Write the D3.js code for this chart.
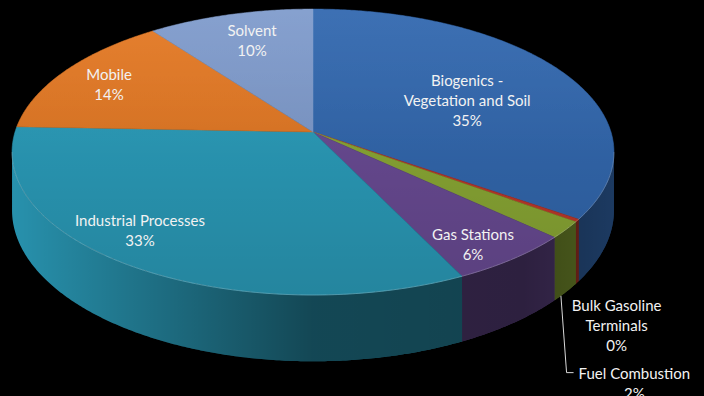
<!DOCTYPE html>
<html><head><meta charset="utf-8">
<script src="https://cdn.jsdelivr.net/npm/d3@7"></script>
<style>html,body{margin:0;padding:0;background:#000;overflow:hidden}svg{display:block}</style>
</head><body>
<script>
// ---- data ----
const categories = ["Biogenics - Vegetation and Soil", "Bulk Gasoline Terminals", "Fuel Combustion", "Gas Stations", "Industrial Processes", "Mobile", "Solvent"];
const values = [34.7, 0.3, 1.9, 5.9, 32.8, 14.2, 10.2];
const labelLines = [["Biogenics -", "Vegetation and Soil"], ["Bulk Gasoline", "Terminals"], ["Fuel Combustion"], ["Gas Stations"], ["Industrial Processes"], ["Mobile"], ["Solvent"]];
const colors = ["#3369B0", "#C0392B", "#8CAA35", "#6B4C96", "#2B9EBC", "#E57A25", "#809CCD"];
// label anchors in the pie plane: [angle deg, radius fraction]
const labelAnchor = [[66.2, 0.584], [143.5, 1.436], [148.9, 1.67], [146.1, 0.866], [219.7, 0.828], [296.6, 0.804], [342.7, 0.757]];

const W = 704, H = 396;
const cx = 313, cy = 132, A = 298, E = -121.7, P = 0.14, T = 57;
const rad = d3.scaleLinear().domain([0, 360]).range([0, 2 * Math.PI]);
function proj(theta, r, z) {
  const u = r * Math.sin(theta), v = r * Math.cos(theta);
  const den = 1 + P * v;
  return [cx + A * u / den, (E * v + cy) / den + z * T / den];
}
function arcPts(a0, a1, r, z) {
  const n = Math.max(2, Math.ceil((a1 - a0) / rad(0.5)));
  return d3.range(n + 1).map(i => proj(a0 + (a1 - a0) * i / n, r, z));
}
const line = d3.line();

const svg = d3.select("body").append("svg").attr("width", W).attr("height", H);
svg.append("rect").attr("width", W).attr("height", H).attr("fill", "#000");
const defs = svg.append("defs");
const wg = defs.append("linearGradient").attr("id", "wallShade").attr("gradientUnits", "userSpaceOnUse")
  .attr("x1", 12).attr("x2", 614).attr("y1", 0).attr("y2", 0);
[[0, 0.08], [0.5, 0.55], [0.85, 0.58], [1, 0.45]].forEach(([o, a]) => wg.append("stop").attr("offset", o).attr("stop-color", "#000").attr("stop-opacity", a));
const tg = defs.append("linearGradient").attr("id", "topShade").attr("gradientUnits", "userSpaceOnUse")
  .attr("x1", 0).attr("x2", 0).attr("y1", 9).attr("y2", 300);
[[0, 0], [1, 0.16]].forEach(([o, a]) => tg.append("stop").attr("offset", o).attr("stop-color", "#000").attr("stop-opacity", a));
const tl = defs.append("linearGradient").attr("id", "topLight").attr("gradientUnits", "userSpaceOnUse")
  .attr("x1", 0).attr("x2", 0).attr("y1", 9).attr("y2", 160);
[[0, 0.05], [1, 0]].forEach(([o, a]) => tl.append("stop").attr("offset", o).attr("stop-color", "#fff").attr("stop-opacity", a));

const pie = d3.pie().sort(null).value(d => d).startAngle(0).endAngle(2 * Math.PI);
const arcs = pie(values);
const total = d3.sum(values);

// walls (visible front part)
const vis0 = rad(98), vis1 = rad(262);
const walls = svg.append("g");
arcs.forEach((a, i) => {
  const s = Math.max(a.startAngle, vis0), e = Math.min(a.endAngle, vis1);
  if (e <= s) return;
  const top = arcPts(s, e, 1, 0), bot = arcPts(s, e, 1, 1).reverse();
  const d = line(top.concat(bot)) + "Z";
  walls.append("path").attr("d", d).attr("fill", colors[i]);
  walls.append("path").attr("d", d).attr("fill", "url(#wallShade)");
});

// tops
const tops = svg.append("g");
arcs.forEach((a, i) => {
  const pts = [proj(0, 0, 0)].concat(arcPts(a.startAngle, a.endAngle, 1, 0));
  tops.append("path").attr("d", line(pts) + "Z").attr("fill", colors[i]).attr("stroke", colors[i]).attr("stroke-width", 0.5);
});
const full = line(arcPts(0, 2 * Math.PI, 1, 0)) + "Z";
tops.append("path").attr("d", full).attr("fill", "url(#topShade)");
tops.append("path").attr("d", full).attr("fill", "url(#topLight)");
// front rim highlight
tops.append("path").attr("d", line(arcPts(vis0, vis1, 1, 0))).attr("fill", "none")
  .attr("stroke", "rgba(255,255,255,0.22)").attr("stroke-width", 1);

// labels
const fmt = d3.format(".0%");
const labels = svg.append("g").attr("font-family", "Lato, 'Open Sans', sans-serif").attr("font-size", 15).attr("fill", "#F2F2F2").attr("text-anchor", "middle");
const lineH = 20;
const boxes = [];
arcs.forEach((a, i) => {
  const lines = labelLines[i].concat([fmt(values[i] / total)]);
  const [x, y] = proj(rad(labelAnchor[i][0]), labelAnchor[i][1], 0);
  const t = labels.append("text").attr("x", x).attr("y", y - (lines.length - 1) * lineH / 2).attr("dominant-baseline", "central");
  lines.forEach((l, k) => t.append("tspan").attr("x", x).attr("dy", k === 0 ? 0 : lineH).text(l));
  boxes.push({x, y, lines, t});
});
// leader line for Fuel Combustion
{
  const i = 2, a = arcs[i];
  const st = proj((a.startAngle + a.endAngle) / 2 + rad(1.5), 1, 1);
  const b = boxes[i];
  const w = b.t.select("tspan").node().getComputedTextLength();
  const y0 = b.y - (b.lines.length - 1) * lineH / 2;
  const left = b.x - w / 2;
  svg.append("path").attr("d", line([st, [left - 12, y0], [left - 5, y0]]))
    .attr("fill", "none").attr("stroke", "#D9D9D9").attr("stroke-width", 1);
}
</script>
</body></html>
